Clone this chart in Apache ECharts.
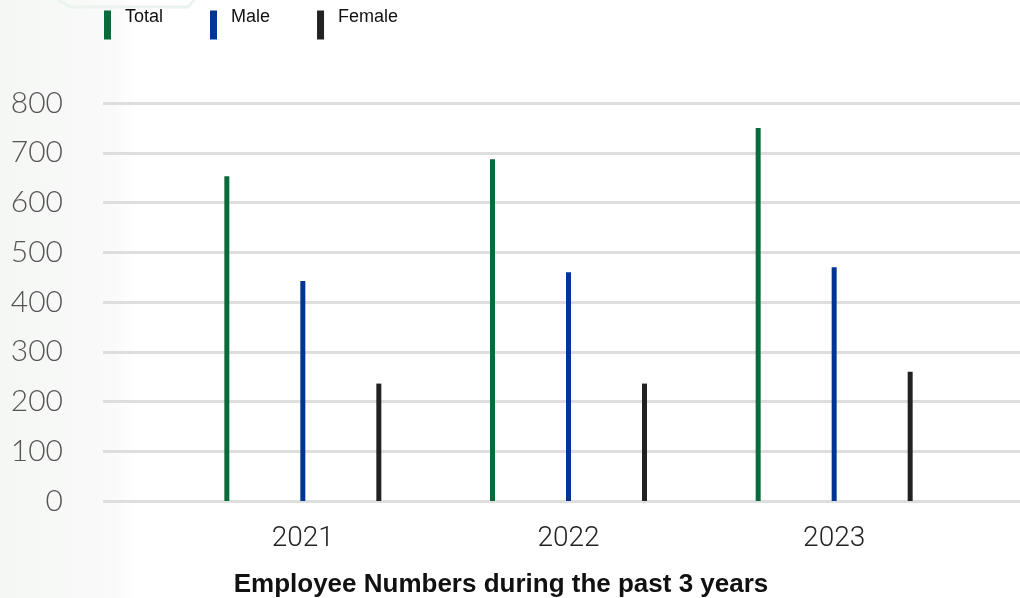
<!DOCTYPE html>
<html>
<head>
<meta charset="utf-8">
<script src="https://cdn.jsdelivr.net/npm/echarts@6/dist/echarts.min.js"></script>
<style>
html,body{margin:0;padding:0;background:#fff;}
#chart{width:1020px;height:598px;}
</style>
</head>
<body>
<div id="chart"></div>
<script>
const categories = ['2021', '2022', '2023'];
const totalValues = [653, 687, 750];
const maleValues = [442, 460, 470];
const femaleValues = [236, 236, 260];
const yTicks = [0, 100, 200, 300, 400, 500, 600, 700, 800];
const seriesNames = ['Total', 'Male', 'Female'];
const titleText = 'Employee Numbers during the past 3 years';

const colors = ['#0a6b3a', '#003594', '#222222'];
const chart = echarts.init(document.getElementById('chart'), null, {renderer: 'canvas'});

const option = {
  backgroundColor: '#ffffff',
  animation: false,
  color: colors,
  title: {
    text: titleText,
    left: 501,
    textAlign: 'center',
    top: 572,
    padding: 0,
    textStyle: {fontFamily: 'Liberation Sans, Arial, sans-serif', fontSize: 26, fontWeight: 'bold', color: '#111'}
  },
  graphic: [
    {
      type: 'rect', z: -10, silent: true,
      shape: {x: 0, y: 0, width: 135, height: 598},
      style: {fill: new echarts.graphic.LinearGradient(0, 0, 1, 0, [
        {offset: 0, color: '#f5f7f5'}, {offset: 0.85, color: '#f9faf9'}, {offset: 1, color: '#ffffff'}
      ])}
    },
    {
      type: 'polyline', z: -9, silent: true,
      shape: {points: [[58, 0], [70, 7], [188, 7], [194, 0]]},
      style: {stroke: '#eaf3ed', lineWidth: 3, fill: null}
    }
  ],
  legend: {
    data: seriesNames,
    left: 99,
    top: 3,
    icon: 'rect',
    itemWidth: 7,
    itemHeight: 29,
    itemGap: 47,
    formatter: function (name) { return '{t|' + name + '}'; },
    textStyle: {
      fontFamily: 'Liberation Sans, Arial, sans-serif',
      fontSize: 18,
      color: '#111',
      rich: {
        t: {
          fontFamily: 'Liberation Sans, Arial, sans-serif',
          fontSize: 18,
          color: '#111',
          padding: [0, 0, 16, 9]
        }
      }
    }
  },
  grid: [
    {left: 103, right: 0, top: 103, bottom: 97},
    {left: 170, right: 53, top: 103, bottom: 97}
  ],
  xAxis: [
    {gridIndex: 0, type: 'category', data: categories, show: false},
    {
      gridIndex: 1, type: 'category', data: categories,
      axisLine: {show: false}, axisTick: {show: false},
      axisLabel: {fontFamily: 'Roboto, Liberation Sans, sans-serif', fontWeight: 300, fontSize: 28, color: '#222', margin: 24}
    }
  ],
  yAxis: [
    {
      gridIndex: 0, type: 'value', min: yTicks[0], max: yTicks[yTicks.length - 1], interval: yTicks[1] - yTicks[0],
      axisLine: {show: false}, axisTick: {show: false},
      splitLine: {show: true, lineStyle: {color: '#dedede', width: 3}},
      axisLabel: {fontFamily: 'Lato, Inter, sans-serif', fontWeight: 300, fontSize: 30, color: '#555', margin: 40}
    },
    {
      gridIndex: 1, type: 'value', min: yTicks[0], max: yTicks[yTicks.length - 1], show: false
    }
  ],
  series: [
    {name: seriesNames[0], type: 'bar', xAxisIndex: 1, yAxisIndex: 1, data: totalValues, barWidth: 5, barGap: '1420%', itemStyle: {color: colors[0]}},
    {name: seriesNames[1], type: 'bar', xAxisIndex: 1, yAxisIndex: 1, data: maleValues, barWidth: 5, barGap: '1420%', itemStyle: {color: colors[1]}},
    {name: seriesNames[2], type: 'bar', xAxisIndex: 1, yAxisIndex: 1, data: femaleValues, barWidth: 5, barGap: '1420%', itemStyle: {color: colors[2]}}
  ]
};
chart.setOption(option);
</script>
</body>
</html>
